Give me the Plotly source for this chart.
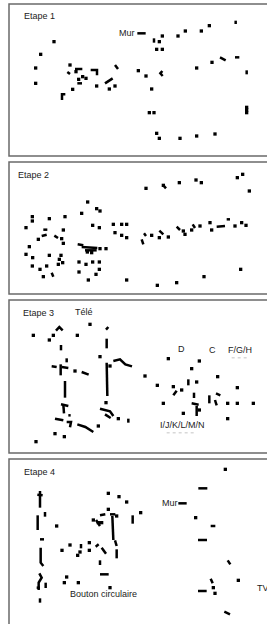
import plotly.graph_objects as go

# ---------------- data (gaze coordinates per step) ----------------
p1_x = [162,122,107,107,210,228,236,248,258,218,290,328,345,415,438,455,448,462,470,478,540,590,645,478,487,470,487,534,556,604,628,590,636,740,740,740]
p1_y = [125,163,204,250,195,215,238,230,235,268,258,267,258,212,228,267,338,338,400,415,415,408,402,125,108,148,148,108,93,93,77,204,187,322,330,338]
s1_x = [412,437,None,225,247,None,232,246,None,272,291,291,None,186,186,196,None,315,338,None,345,354,None,462,462,None,707,707,None,660,677,None,705,718,None,740,740,None,487,481,488,None,202,210]
s1_y = [100,100,None,207,207,None,250,250,None,210,210,226,None,300,283,283,None,250,235,None,195,207,None,115,128,None,62,72,None,172,181,None,172,172,None,211,223,None,213,220,228,None,216,222]

p2_x = [438,490,538,588,604,712,728,748,263,290,300,245,195,148,97,97,78,190,185,115,190,88,262,275,300,318,278,298,340,365,380,345,365,380,
        78,98,148,183,178,97,120,140,175,130,188,237,258,278,298,298,288,237,265,380,472,530,612,722,455,478,505,555,550,575,600,630,635,705,725,738]
p2_y = [97,88,80,72,80,65,55,105,138,158,165,172,182,188,182,195,215,222,248,250,262,272,288,290,278,278,208,215,205,205,205,230,238,245,
        295,305,298,298,310,330,340,330,325,362,320,318,325,318,318,340,355,348,372,372,388,380,362,340,238,245,243,235,225,222,210,200,222,210,200,208]
s2_x = [130,142,None,125,140,None,163,174,None,233,250,None,245,292,None,255,290,None,155,160,None,432,438,None,425,430,None,478,490,None,530,540,None,578,585,None,650,675,None,680,690,None,490,498]
s2_y = [221,221,None,240,236,None,239,246,None,265,268,None,273,276,None,283,283,None,350,362,None,232,240,None,250,265,None,224,235,None,212,222,None,205,216,None,212,210,None,190,190,None,88,97]

p3_x = [100,148,160,232,270,300,225,330,318,295,355,165,193,108,435,472,505,598,575,590,520,545,490,598,550,653,683,712,760,712,683]
p3_y = [118,132,118,118,85,182,225,210,320,390,368,413,422,437,240,268,188,195,218,258,272,282,322,342,352,242,322,322,322,275,368]
s3_x = [168,178,188,None,318,325,None,183,183,None,320,320,None,200,200,None,155,170,None,182,182,None,185,205,None,245,266,None,340,360,376,396,None,320,322,None,195,195,
        None,183,205,None,190,192,None,205,212,None,165,190,None,200,213,210,None,232,256,280,None,300,330,340,None,315,332,None,385,385,
        None,565,565,None,530,520,None,582,582,None,575,596,None,590,590,None,628,628,None,648,661,None,645,650]
s3_y = [104,93,103,None,101,93,None,147,163,None,128,157,None,187,199,None,211,213,None,205,238,None,213,216,None,228,236,None,195,190,205,211,None,200,300,None,255,305,
        None,325,330,None,325,352,None,358,358,None,368,373,None,378,378,394,None,385,393,408,None,338,346,360,None,355,366,None,368,380,
        None,250,268,None,284,298,None,290,306,None,322,326,None,330,360,None,298,322,None,292,298,None,312,328]
f3_x = [695,745,None,500,590]
f3_y = [185,185,None,410,410]

p4_x = [676,325,357,380,325,280,350,422,170,186,210,233,240,268,268,200,193,235,330,587,715,640,645,295,305]
p4_y = [70,142,152,168,190,222,210,200,240,313,297,328,318,290,313,393,410,410,425,215,403,425,442,230,230]
s4_x = [120,120,None,112,128,None,113,113,None,135,135,None,120,132,None,122,122,130,None,118,125,116,116,None,110,120,None,137,137,None,120,120,
        None,243,243,None,287,296,None,305,318,None,300,300,None,300,326,None,300,316,None,288,300,None,330,346,None,337,340,None,345,350,None,350,350,None,398,398,
        None,535,560,None,595,622,None,632,646,None,594,621,None,683,691,None,632,638,None,594,620,None,673,690]
s4_y = [135,185,None,146,148,None,208,252,None,198,212,None,280,280,None,305,350,360,None,382,395,410,432,None,425,425,None,410,426,None,457,470,
        None,294,307,None,302,295,None,305,323,None,343,357,None,385,385,None,208,205,None,222,240,None,205,205,None,210,282,None,283,300,None,310,337,None,208,233,
        None,172,172,None,127,127,None,240,240,None,282,282,None,343,355,None,398,412,None,435,435,None,497,505]

labels = [
    [("Etape 1", 65, 48), ("Mur", 350, 100)],
    [("Etape 2", 48, 58)],
    [("Etape 3", 62, 50), ("Télé", 218, 47), ("D", 528, 158), ("C", 622, 162),
     ("F/G/H", 678, 162), ("I/J/K/L/M/N", 475, 388)],
    [("Etape 4", 66, 78), ("Mur", 480, 172), ("Bouton circulaire", 203, 445), ("TV", 766, 425)],
]

points = [(p1_x, p1_y), (p2_x, p2_y), (p3_x, p3_y), (p4_x, p4_y)]
segments = [(s1_x, s1_y), (s2_x, s2_y), (s3_x, s3_y), (s4_x, s4_y)]

# ---------------- layout geometry ----------------
W, H = 267, 624
# panel boxes in pixels: (top, bottom, crop origin)
boxes = [(4, 156, 0), (162, 294, 156), (300, 453, 296), (459, 624, 446)]
left_px = 9

fig = go.Figure()
layout = dict(
    width=W, height=H, margin=dict(l=0, r=0, t=0, b=0),
    paper_bgcolor="white", plot_bgcolor="white", showlegend=False,
    font=dict(family="Liberation Sans, Arial, sans-serif", size=9, color="#222"),
)
annotations = []
shapes = []
for i, (top, bot, oy) in enumerate(boxes):
    k = "" if i == 0 else str(i + 1)
    xa, ya = "x" + k, "y" + k
    layout["xaxis" + k] = dict(domain=[left_px / W, 1], range=[27, 801], visible=False,
                               fixedrange=True, anchor=ya)
    layout["yaxis" + k] = dict(domain=[1 - bot / H, 1 - top / H],
                               range=[(bot - oy) * 3, (top - oy) * 3], visible=False,
                               fixedrange=True, anchor=xa)
    sx, sy = segments[i]
    fig.add_trace(go.Scatter(x=sx, y=sy, mode="lines", xaxis=xa, yaxis=ya,
                             line=dict(color="black", width=2.5), hoverinfo="skip",
                             cliponaxis=False))
    px, py = points[i]
    fig.add_trace(go.Scatter(x=px, y=py, mode="markers", xaxis=xa, yaxis=ya,
                             marker=dict(symbol="square", size=3.3, color="black", line=dict(width=0)),
                             cliponaxis=False))
    if i == 2:
        fig.add_trace(go.Scatter(x=f3_x, y=f3_y, mode="lines", xaxis=xa, yaxis=ya,
                                 line=dict(color="#d8d8d8", width=1.5, dash="dot"), hoverinfo="skip"))
    for text, tx, ty in labels[i]:
        annotations.append(dict(text=text, x=tx, y=ty, xref=xa, yref=ya, xanchor="left",
                                yanchor="middle", showarrow=False,
                                font=dict(size=9, color="#222")))
    shapes.append(dict(type="rect", xref="paper", yref="paper",
                       x0=left_px / W, x1=1.05,
                       y0=(1 - bot / H) if i < 3 else -0.05, y1=1 - top / H,
                       line=dict(color="#6a6a6a", width=1.5), fillcolor="rgba(0,0,0,0)"))

layout["annotations"] = annotations
layout["shapes"] = shapes
fig.update_layout(**layout)
fig.write_html("out.html", config={"displayModeBar": False},
               post_script="document.body.style.margin='0';document.body.style.overflow='hidden';")
